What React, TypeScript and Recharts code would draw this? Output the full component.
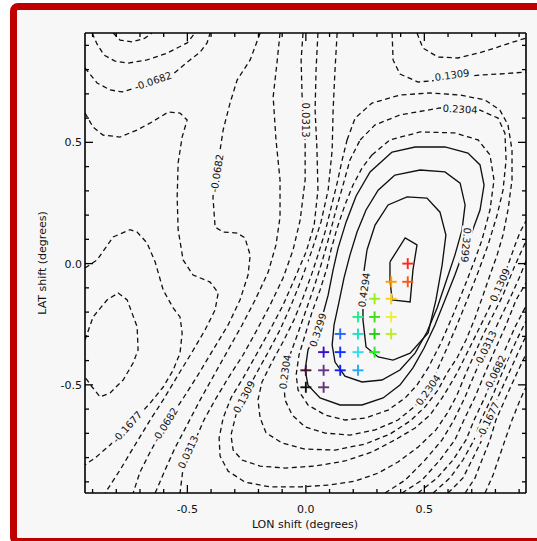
import React from "react";
import { ComposedChart, Line, XAxis, YAxis } from "recharts";

type Pt = [number, number];

// contour traces, as [LON shift, LAT shift] in degrees
const cupTopLeft: Pt[] = [[-0.813, 0.951], [-0.784, 0.922], [-0.733, 0.914], [-0.679, 0.93], [-0.649, 0.951]];
const arcTopLeft: Pt[] = [[-0.902, 0.951], [-0.881, 0.905], [-0.852, 0.86], [-0.805, 0.835], [-0.75, 0.827], [-0.67, 0.84], [-0.586, 0.868], [-0.501, 0.91], [-0.468, 0.951]];
const lowTopLeft: Pt[] = [[-0.932, 0.807], [-0.881, 0.745], [-0.826, 0.716], [-0.775, 0.708], [-0.721, 0.724], [-0.645, 0.753], [-0.56, 0.782], [-0.489, 0.84], [-0.446, 0.872], [-0.417, 0.91], [-0.404, 0.951]];
const westRidge: Pt[] = [[-0.932, 0.621], [-0.898, 0.563], [-0.856, 0.53], [-0.784, 0.522], [-0.712, 0.551], [-0.649, 0.584], [-0.581, 0.625], [-0.531, 0.621], [-0.501, 0.592], [-0.522, 0.522], [-0.539, 0.415], [-0.543, 0.275], [-0.539, 0.14], [-0.518, 0.015], [-0.476, -0.047], [-0.404, -0.076], [-0.37, -0.121], [-0.383, -0.191], [-0.425, -0.273], [-0.48, -0.365], [-0.539, -0.459], [-0.602, -0.562], [-0.657, -0.645], [-0.721, -0.748], [-0.784, -0.851], [-0.847, -0.946]];
const westLowOuter: Pt[] = [[-0.932, -0.018], [-0.881, 0.015], [-0.813, 0.11], [-0.742, 0.14], [-0.712, 0.13], [-0.67, 0.085], [-0.636, 0.007], [-0.602, -0.109], [-0.56, -0.183], [-0.531, -0.22], [-0.522, -0.286], [-0.531, -0.369], [-0.56, -0.439], [-0.602, -0.509], [-0.657, -0.575], [-0.712, -0.633], [-0.754, -0.674], [-0.826, -0.748], [-0.889, -0.801], [-0.932, -0.83]];
const westLowInner: Pt[] = [[-0.932, -0.315], [-0.898, -0.22], [-0.839, -0.15], [-0.792, -0.121], [-0.754, -0.15], [-0.712, -0.261], [-0.708, -0.356], [-0.729, -0.41], [-0.771, -0.48], [-0.826, -0.533], [-0.868, -0.55], [-0.902, -0.509], [-0.932, -0.468]];
const minus0682: Pt[] = [[-0.193, 0.951], [-0.235, 0.84], [-0.29, 0.757], [-0.32, 0.662], [-0.349, 0.551], [-0.362, 0.468], [-0.375, 0.386], [-0.392, 0.275], [-0.383, 0.151], [-0.349, 0.13], [-0.29, 0.126], [-0.257, 0.106], [-0.235, 0.035], [-0.244, -0.047], [-0.278, -0.15], [-0.328, -0.253], [-0.392, -0.356], [-0.455, -0.459], [-0.522, -0.562], [-0.594, -0.665], [-0.657, -0.777], [-0.7, -0.86], [-0.729, -0.946]];
const minus0185: Pt[] = [[-0.109, 0.951], [-0.122, 0.827], [-0.138, 0.687], [-0.126, 0.51], [-0.109, 0.345], [-0.109, 0.192], [-0.126, 0.077], [-0.159, -0.035], [-0.214, -0.15], [-0.269, -0.253], [-0.328, -0.356], [-0.387, -0.459], [-0.446, -0.562], [-0.501, -0.665], [-0.552, -0.76], [-0.594, -0.851], [-0.636, -0.946]];
const plus0313: Pt[] = [[-0.012, 0.951], [-0.02, 0.84], [-0.016, 0.695], [-0.003, 0.51], [-0.003, 0.345], [-0.024, 0.18], [-0.054, 0.056], [-0.096, -0.059], [-0.151, -0.171], [-0.206, -0.273], [-0.265, -0.377], [-0.328, -0.472], [-0.383, -0.562], [-0.43, -0.645], [-0.463, -0.719], [-0.497, -0.777], [-0.518, -0.843], [-0.531, -0.946]];
const plus081: Pt[] = [[0.051, 0.951], [0.043, 0.798], [0.039, 0.633], [0.047, 0.468], [0.051, 0.303], [0.035, 0.159], [0.001, 0.048], [-0.046, -0.059], [-0.096, -0.171], [-0.151, -0.273], [-0.21, -0.377], [-0.265, -0.472], [-0.316, -0.554], [-0.349, -0.637], [-0.366, -0.719], [-0.362, -0.794], [-0.328, -0.856], [-0.257, -0.901], [-0.151, -0.921], [-0.024, -0.921], [0.102, -0.913], [0.208, -0.897], [0.305, -0.864], [0.389, -0.818], [0.473, -0.757], [0.549, -0.686], [0.6, -0.612], [0.638, -0.542], [0.676, -0.451], [0.71, -0.377], [0.748, -0.294], [0.79, -0.212], [0.832, -0.13], [0.874, -0.026], [0.929, 0.093]];
const plus1309: Pt[] = [[0.132, 0.951], [0.123, 0.798], [0.115, 0.633], [0.111, 0.468], [0.094, 0.303], [0.064, 0.172], [0.026, 0.056], [-0.016, -0.059], [-0.062, -0.171], [-0.109, -0.273], [-0.159, -0.365], [-0.21, -0.455], [-0.257, -0.542], [-0.295, -0.624], [-0.316, -0.707], [-0.307, -0.769], [-0.269, -0.81], [-0.193, -0.835], [-0.088, -0.843], [0.039, -0.835], [0.165, -0.814], [0.279, -0.777], [0.376, -0.727], [0.461, -0.678], [0.524, -0.624], [0.575, -0.554], [0.608, -0.501], [0.638, -0.451], [0.676, -0.377], [0.718, -0.294], [0.765, -0.2], [0.807, -0.118], [0.853, -0.006], [0.883, 0.077], [0.904, 0.13], [0.929, 0.176]];
const loop181: Pt[] = [[0.174, 0.51], [0.208, 0.6], [0.279, 0.662], [0.397, 0.695], [0.524, 0.704], [0.651, 0.695], [0.756, 0.675], [0.819, 0.633], [0.853, 0.572], [0.87, 0.468], [0.87, 0.345], [0.853, 0.221], [0.832, 0.118], [0.807, 0.035], [0.777, -0.047], [0.748, -0.13], [0.714, -0.224], [0.676, -0.315], [0.638, -0.389], [0.596, -0.451], [0.558, -0.521], [0.503, -0.591], [0.44, -0.649], [0.355, -0.703], [0.25, -0.744], [0.123, -0.769], [-0.003, -0.765], [-0.1, -0.74], [-0.168, -0.698], [-0.193, -0.637], [-0.202, -0.562], [-0.185, -0.488], [-0.143, -0.406], [-0.096, -0.322], [-0.05, -0.232], [-0.012, -0.141], [0.022, -0.051], [0.051, 0.035], [0.081, 0.13], [0.106, 0.229], [0.132, 0.332], [0.153, 0.427], [0.174, 0.51]];
const loop2304: Pt[] = [[0.229, 0.51], [0.292, 0.572], [0.397, 0.613], [0.566, 0.642], [0.735, 0.633], [0.811, 0.6], [0.84, 0.538], [0.845, 0.427], [0.832, 0.303], [0.807, 0.2], [0.769, 0.077], [0.727, -0.035], [0.684, -0.142], [0.638, -0.253], [0.592, -0.356], [0.549, -0.451], [0.516, -0.521], [0.461, -0.587], [0.389, -0.645], [0.292, -0.686], [0.186, -0.707], [0.081, -0.699], [-0.003, -0.674], [-0.058, -0.624], [-0.088, -0.562], [-0.092, -0.501], [-0.088, -0.447], [-0.067, -0.377], [-0.033, -0.286], [0.001, -0.191], [0.035, -0.096], [0.068, 0.007], [0.098, 0.11], [0.127, 0.221], [0.157, 0.324], [0.186, 0.427], [0.229, 0.51]];
const loop2801: Pt[] = [[0.279, 0.448], [0.355, 0.51], [0.482, 0.543], [0.629, 0.539], [0.727, 0.51], [0.777, 0.448], [0.794, 0.345], [0.777, 0.221], [0.743, 0.097], [0.71, 0.007], [0.667, -0.101], [0.621, -0.212], [0.57, -0.327], [0.516, -0.43], [0.469, -0.501], [0.419, -0.554], [0.347, -0.604], [0.25, -0.637], [0.165, -0.645], [0.081, -0.624], [0.009, -0.583], [-0.033, -0.521], [-0.041, -0.459], [-0.029, -0.377], [-0.003, -0.294], [0.026, -0.2], [0.06, -0.109], [0.089, -0.018], [0.106, 0.056], [0.132, 0.147], [0.165, 0.242], [0.199, 0.324], [0.237, 0.394], [0.279, 0.448]];
const solid3299: Pt[] = [[0.364, 0.46], [0.461, 0.481], [0.587, 0.481], [0.684, 0.456], [0.735, 0.407], [0.752, 0.324], [0.735, 0.221], [0.701, 0.13], [0.667, 0.056], [0.629, -0.047], [0.587, -0.15], [0.545, -0.253], [0.499, -0.348], [0.452, -0.43], [0.397, -0.501], [0.326, -0.554], [0.237, -0.583], [0.144, -0.583], [0.06, -0.554], [0.009, -0.501], [-0.003, -0.439], [0.009, -0.356], [0.039, -0.294], [0.068, -0.224], [0.094, -0.13], [0.115, -0.026], [0.136, 0.064], [0.17, 0.172], [0.212, 0.279], [0.271, 0.378], [0.364, 0.46]];
const solid3797: Pt[] = [[0.376, 0.365], [0.482, 0.386], [0.587, 0.378], [0.651, 0.332], [0.672, 0.242], [0.659, 0.139], [0.629, 0.035], [0.591, -0.076], [0.554, -0.183], [0.511, -0.282], [0.461, -0.369], [0.397, -0.439], [0.321, -0.48], [0.237, -0.488], [0.165, -0.464], [0.123, -0.406], [0.111, -0.336], [0.119, -0.253], [0.14, -0.158], [0.161, -0.059], [0.186, 0.035], [0.216, 0.13], [0.254, 0.221], [0.305, 0.303], [0.376, 0.365]];
const solid4294: Pt[] = [[0.258, 0.056], [0.292, 0.159], [0.347, 0.242], [0.427, 0.275], [0.511, 0.27], [0.566, 0.212], [0.591, 0.118], [0.575, -0.006], [0.549, -0.15], [0.516, -0.286], [0.44, -0.369], [0.368, -0.398], [0.305, -0.385], [0.254, -0.344], [0.241, -0.232], [0.241, -0.109], [0.246, -0.026], [0.258, 0.056]];
const solidPeak: Pt[] = [[0.355, 0.007], [0.419, 0.106], [0.469, 0.077], [0.452, -0.026], [0.44, -0.158], [0.364, -0.15], [0.355, -0.067], [0.355, 0.007]];
const topRight1309: Pt[] = [[0.364, 0.951], [0.368, 0.84], [0.397, 0.782], [0.473, 0.749], [0.566, 0.757], [0.651, 0.769], [0.735, 0.778], [0.819, 0.782], [0.929, 0.79]];
const topRightCup: Pt[] = [[0.469, 0.951], [0.494, 0.889], [0.557, 0.852], [0.642, 0.848], [0.727, 0.868], [0.798, 0.889], [0.862, 0.91], [0.929, 0.93]];
const southEast0313: Pt[] = [[0.334, -0.946], [0.419, -0.893], [0.503, -0.81], [0.575, -0.727], [0.625, -0.645], [0.672, -0.55], [0.714, -0.451], [0.756, -0.356], [0.807, -0.253], [0.862, -0.142], [0.904, -0.051], [0.929, 0.011]];
const southEast0185: Pt[] = [[0.406, -0.946], [0.49, -0.893], [0.566, -0.81], [0.629, -0.727], [0.667, -0.645], [0.714, -0.55], [0.756, -0.451], [0.798, -0.356], [0.845, -0.253], [0.887, -0.15], [0.929, -0.08]];
const southEast0682: Pt[] = [[0.473, -0.946], [0.554, -0.884], [0.621, -0.81], [0.676, -0.727], [0.71, -0.645], [0.756, -0.55], [0.798, -0.451], [0.84, -0.356], [0.883, -0.261], [0.929, -0.175]];
const southEast1180: Pt[] = [[0.537, -0.946], [0.608, -0.884], [0.663, -0.81], [0.71, -0.727], [0.739, -0.645], [0.786, -0.55], [0.828, -0.451], [0.87, -0.356], [0.904, -0.286], [0.929, -0.237]];
const southEast1677: Pt[] = [[0.6, -0.946], [0.663, -0.884], [0.701, -0.81], [0.743, -0.727], [0.769, -0.645], [0.811, -0.55], [0.857, -0.451], [0.895, -0.369], [0.929, -0.299]];
const southEast2175: Pt[] = [[0.672, -0.946], [0.714, -0.884], [0.743, -0.81], [0.777, -0.727], [0.802, -0.645], [0.845, -0.55], [0.891, -0.451], [0.929, -0.373]];
const southEast2672: Pt[] = [[0.756, -0.946], [0.79, -0.872], [0.819, -0.789], [0.845, -0.715], [0.87, -0.645], [0.904, -0.562], [0.929, -0.509]];

const dashedContours = [
  cupTopLeft, arcTopLeft, lowTopLeft, westRidge, westLowOuter, westLowInner,
  minus0682, minus0185, plus0313, plus081, plus1309, loop181, loop2304, loop2801,
  topRight1309, topRightCup, southEast0313, southEast0185, southEast0682,
  southEast1180, southEast1677, southEast2175, southEast2672,
];
const solidContours = [solid3299, solid3797, solid4294, solidPeak];

// contour labels
const labelText = ["-0.0682", "-0.0682", "0.0313", "0.1309", "0.2304", "0.3299", "0.4294", "0.3299", "0.2304", "0.1309", "0.0313", "-0.0682", "-0.1677", "0.2304", "0.1309", "0.0313", "-0.0682", "-0.1677"];
const labelLon = [-0.645, -0.375, -0.003, 0.617, 0.651, 0.676, 0.246, 0.051, -0.088, -0.261, -0.497, -0.594, -0.754, 0.516, 0.819, 0.761, 0.798, 0.769];
const labelLat = [0.753, 0.373, 0.592, 0.778, 0.637, 0.077, -0.109, -0.274, -0.447, -0.55, -0.777, -0.665, -0.674, -0.521, -0.088, -0.344, -0.451, -0.645];
const labelAngles = [-19, -81, 90, -8, 3, 95, -82, -72, -82, -62, -65, -58, -48, -55, -66, -64, -64, -64];

// grid of shifts that were tried
const markerLon = [0.43, 0.36, 0.43, 0.29, 0.36, 0.22, 0.29, 0.36, 0.145, 0.22, 0.29, 0.36, 0.075, 0.145, 0.22, 0.29, 0.0, 0.075, 0.145, 0.22, 0.0, 0.075];
const markerLat = [0.0, -0.075, -0.075, -0.145, -0.145, -0.22, -0.22, -0.22, -0.29, -0.29, -0.29, -0.29, -0.365, -0.365, -0.365, -0.365, -0.44, -0.44, -0.44, -0.44, -0.51, -0.51];
const markerColors = ["#ff2a1a", "#ff9a00", "#ff5511", "#99ee22", "#ffcc11", "#22ee88", "#44dd11", "#eeee33", "#2266ff", "#22ddbb", "#22cc11", "#bbee22", "#3311cc", "#1133ff", "#33ddee", "#22ee22", "#441133", "#663388", "#1122ee", "#22aaee", "#111111", "#663377"];

const axisTicks = [-0.9, -0.8, -0.7, -0.6, -0.5, -0.4, -0.3, -0.2, -0.1, 0, 0.1, 0.2, 0.3, 0.4, 0.5, 0.6, 0.7, 0.8, 0.9];
const labelledTicks = [-0.5, 0, 0.5];

const FONT = "DejaVu Sans, sans-serif";

const isMajor = (v: number) => labelledTicks.some((t) => Math.abs(t - v) < 1e-6);
const fmt = (v: number) => (Math.abs(v) < 1e-6 ? "0.0" : v.toFixed(1));

const BottomTick = ({ x, y, payload }: any) => {
  const major = isMajor(payload.value);
  return (
    <g>
      <line x1={x} x2={x} y1={y} y2={y - (major ? 8 : 4)} stroke="#000" strokeWidth={1.3} />
      {major && (
        <text x={x} y={y + 19.5} textAnchor="middle" fontSize={11} fontFamily={FONT} fill="#111">
          {fmt(payload.value)}
        </text>
      )}
    </g>
  );
};
const TopTick = ({ x, y, payload }: any) => (
  <line x1={x} x2={x} y1={y} y2={y + (isMajor(payload.value) ? 8 : 4)} stroke="#000" strokeWidth={1.3} />
);
const LeftTick = ({ x, y, payload }: any) => {
  const major = isMajor(payload.value);
  return (
    <g>
      <line x1={x} x2={x + (major ? 8 : 4)} y1={y} y2={y} stroke="#000" strokeWidth={1.3} />
      {major && (
        <text x={x - 3} y={y + 4} textAnchor="end" fontSize={11} fontFamily={FONT} fill="#111">
          {fmt(payload.value)}
        </text>
      )}
    </g>
  );
};
const RightTick = ({ x, y, payload }: any) => (
  <line x1={x} x2={x - (isMajor(payload.value) ? 8 : 4)} y1={y} y2={y} stroke="#000" strokeWidth={1.3} />
);

const ContourLabel = (p: any) => {
  const { cx, cy, payload, index } = p;
  const w = payload.text.length * 6 + 2;
  return (
    <g key={`lab-${index}`} transform={`translate(${cx},${cy}) rotate(${payload.angle})`}>
      <rect x={-w / 2} y={-5.5} width={w} height={11} fill="#f7f7f7" />
      <text x={0} y={3.6} textAnchor="middle" fontSize={10} fontFamily={FONT} fill="#111">
        {payload.text}
      </text>
    </g>
  );
};

const PlusMarker = (p: any) => {
  const { cx, cy, payload, index } = p;
  const r = 5.5;
  return (
    <g key={`mk-${index}`} stroke={payload.color} strokeWidth={1.9}>
      <line x1={cx - r} x2={cx + r} y1={cy} y2={cy} />
      <line x1={cx} x2={cx} y1={cy - r} y2={cy + r} />
    </g>
  );
};

const toRows = (pts: Pt[]) => pts.map(([x, y]) => ({ x, y }));

export default function App() {
  const labels = labelText.map((text, i) => ({ x: labelLon[i], y: labelLat[i], text, angle: labelAngles[i] }));
  const markers = markerLon.map((x, i) => ({ x, y: markerLat[i], color: markerColors[i] }));
  const xDomain: [number, number] = [-0.932, 0.929];
  const yDomain: [number, number] = [-0.946, 0.951];

  return (
    <div style={{ position: "absolute", left: 0, top: 0, width: 537, height: 541, overflow: "hidden", background: "#fff" }}>
      <div
        style={{
          position: "absolute",
          left: 10,
          top: 3,
          width: 600,
          height: 528,
          border: "7px solid #c00000",
          borderRadius: 8,
          background: "#f7f7f7",
        }}
      />
      <div style={{ position: "absolute", left: 0, top: 0 }}>
        <ComposedChart width={537} height={541} margin={{ top: 3, right: 0, bottom: 0, left: 0 }}>
          <XAxis
            xAxisId={0}
            dataKey="x"
            type="number"
            domain={xDomain}
            allowDataOverflow
            ticks={axisTicks}
            interval={0}
            height={48}
            tickSize={0}
            tickMargin={0}
            tickLine={false}
            tick={<BottomTick />}
            axisLine={{ stroke: "#000", strokeWidth: 1.6 }}
          />
          <XAxis
            xAxisId="top"
            orientation="top"
            dataKey="x"
            type="number"
            domain={xDomain}
            allowDataOverflow
            ticks={axisTicks}
            interval={0}
            height={30}
            tickSize={0}
            tickMargin={0}
            tickLine={false}
            tick={<TopTick />}
            axisLine={{ stroke: "#000", strokeWidth: 1.6 }}
          />
          <YAxis
            yAxisId={0}
            dataKey="y"
            type="number"
            domain={yDomain}
            allowDataOverflow
            ticks={axisTicks}
            interval={0}
            width={85}
            tickSize={0}
            tickMargin={0}
            tickLine={false}
            tick={<LeftTick />}
            axisLine={{ stroke: "#000", strokeWidth: 1.6 }}
          />
          <YAxis
            yAxisId="right"
            orientation="right"
            dataKey="y"
            type="number"
            domain={yDomain}
            allowDataOverflow
            ticks={axisTicks}
            interval={0}
            width={11}
            tickSize={0}
            tickMargin={0}
            tickLine={false}
            tick={<RightTick />}
            axisLine={{ stroke: "#000", strokeWidth: 1.6 }}
          />
          <Line
            xAxisId="top"
            yAxisId="right"
            data={[{ x: 0, y: 0 }]}
            dataKey="y"
            stroke="none"
            dot={false}
            isAnimationActive={false}
          />
          {dashedContours.map((pts, i) => (
            <Line
              key={`d${i}`}
              data={toRows(pts)}
              dataKey="y"
              type="linear"
              stroke="#111"
              strokeWidth={1.3}
              strokeDasharray="5 3.5"
              dot={false}
              isAnimationActive={false}
            />
          ))}
          {solidContours.map((pts, i) => (
            <Line
              key={`s${i}`}
              data={toRows(pts)}
              dataKey="y"
              type="linear"
              stroke="#111"
              strokeWidth={1.35}
              dot={false}
              isAnimationActive={false}
            />
          ))}
          <Line data={labels} dataKey="y" stroke="none" dot={ContourLabel} activeDot={false} isAnimationActive={false} />
          <Line data={markers} dataKey="y" stroke="none" dot={PlusMarker} activeDot={false} isAnimationActive={false} />
        </ComposedChart>
      </div>
      <svg width={537} height={541} style={{ position: "absolute", left: 0, top: 0, pointerEvents: "none" }}>
        <text x={305} y={528} textAnchor="middle" fontSize={11} fontFamily={FONT} fill="#111">
          LON shift (degrees)
        </text>
        <text transform="translate(46,263) rotate(-90)" textAnchor="middle" fontSize={11} fontFamily={FONT} fill="#111">
          LAT shift (degrees)
        </text>
      </svg>
    </div>
  );
}
